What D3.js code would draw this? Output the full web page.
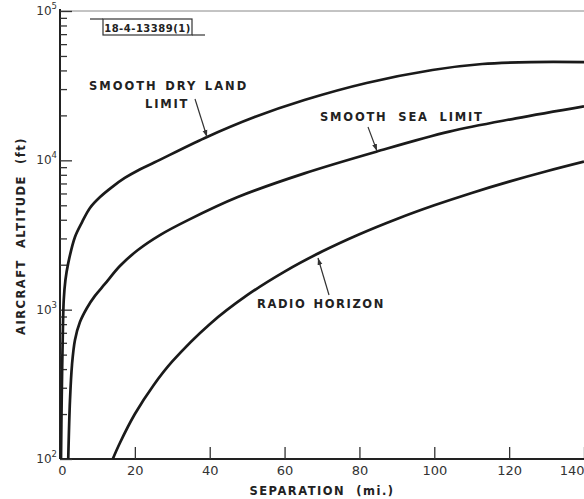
<!DOCTYPE html>
<html>
  <head>
    <meta charset="utf-8">
    <script src="https://d3js.org/d3.v7.min.js"></script>
    <title>Aircraft altitude vs separation</title>
    <style>
      body { margin: 0px; background: #fff; }
      svg text {
        font-family: 'DejaVu Sans', sans-serif;
        font-weight: bold;
        fill: #222;
      }
      .tick-label { font-size: 13px; font-weight: normal; fill: #333; }
      .axis-label { font-size: 11.5px; letter-spacing: 1.5px; }
      .note { font-size: 11.5px; letter-spacing: 1.8px; }
      .domain { display: none; }
      .tick line { stroke: #333; stroke-width: 1.3; }
      .curve { fill: none; stroke: #1a1a1a; stroke-width: 2.7; }
    </style>
  </head>
  <body>
    <svg width="584" height="499"></svg>
    <script>
      // separation (mi.) and altitude (ft)
      const sepDry = [0.27, 0.45, 0.67, 1.0, 1.45, 2.2, 4.0, 5.9, 8.0, 10.7, 13.9, 17.3, 21.3, 25.3, 38.7, 52, 65.3, 81.9, 99.5, 112.8, 126, 140];
      const altDry = [100, 248, 537, 1160, 1580, 2050, 3070, 3860, 4800, 5680, 6620, 7620, 8690, 9700, 14130, 19500, 25350, 32970, 40270, 44150, 45500, 45500];

      const sepSea = [2.2, 2.67, 3.2, 4.0, 5.33, 7.2, 9.33, 12, 16, 20.8, 26.7, 34.2, 47.5, 65.3, 84.5, 104, 121.8, 140];
      const altSea = [100, 248, 426, 627, 826, 1026, 1236, 1486, 1960, 2510, 3160, 3980, 5680, 8180, 11420, 15560, 19100, 23000];

      const sepRadio = [14.1, 16, 20, 25, 30, 40, 50, 60, 70, 80, 90, 100, 110, 120, 130, 140];
      const altRadio = [100, 128, 200, 312, 450, 800, 1250, 1800, 2450, 3200, 4050, 5000, 6050, 7200, 8450, 9800];

      const xTicks = [0, 20, 40, 60, 80, 100, 120, 140];
      const yDecades = [2, 3, 4, 5];

      const svg = d3.select('svg');
      const plotL = 60, plotR = 584, plotT = 11, plotB = 459;

      const x = d3.scaleLinear().domain([0, 140]).range([plotL, plotR]);
      const y = d3.scaleLog().domain([100, 1e5]).range([plotB, plotT]);

      // frame lines
      svg.append('line').attr('x1', plotL).attr('x2', 584).attr('y1', plotT).attr('y2', plotT)
        .attr('stroke', '#888').attr('stroke-width', 1);
      svg.append('line').attr('x1', plotL).attr('x2', plotL).attr('y1', plotT - 2).attr('y2', plotB)
        .attr('stroke', '#222').attr('stroke-width', 2);
      svg.append('line').attr('x1', plotL).attr('x2', 584).attr('y1', plotB).attr('y2', plotB)
        .attr('stroke', '#222').attr('stroke-width', 2);

      // y ticks: minor and decade ticks drawn inward
      const minor = [];
      [100, 1000, 10000].forEach(b => { for (let k = 2; k <= 9; k++) minor.push(b * k); });
      svg.append('g').attr('transform', `translate(${plotL},0)`)
        .call(d3.axisRight(y).tickValues(minor).tickSize(7).tickFormat(''));
      svg.append('g').attr('transform', `translate(${plotL},0)`)
        .call(d3.axisRight(y).tickValues(yDecades.map(e => Math.pow(10, e))).tickSize(12).tickFormat(''));

      const yl = svg.append('g');
      yDecades.forEach(e => {
        const t = yl.append('text').attr('class', 'tick-label')
          .style('font-size', '12px')
          .attr('x', plotL - 3).attr('y', y(Math.pow(10, e)) + 4)
          .attr('text-anchor', 'end');
        t.append('tspan').text('10');
        t.append('tspan').attr('dy', -6).style('font-size', '8.5px').text(e);
      });

      // x ticks pointing up, labels below
      svg.append('g').attr('transform', `translate(0,${plotB})`)
        .call(d3.axisTop(x).tickValues(xTicks.slice(1)).tickSize(12).tickFormat(''));
      svg.append('g').attr('transform', `translate(0,${plotB})`)
        .call(d3.axisBottom(x).tickValues(xTicks).tickSize(0).tickPadding(7))
        .selectAll('text')
          .attr('class', 'tick-label')
          .attr('dx', d => d === 0 ? 2 : 0)
          .attr('text-anchor', d => d === 140 ? 'end' : 'middle');

      // axis titles
      svg.append('text').attr('class', 'axis-label')
        .attr('x', 322).attr('y', 495).attr('text-anchor', 'middle')
        .attr('xml:space', 'preserve')
        .text('SEPARATION  (mi.)');
      svg.append('text').attr('class', 'axis-label')
        .attr('transform', 'translate(25,236) rotate(-90)').attr('text-anchor', 'middle')
        .attr('xml:space', 'preserve')
        .text('AIRCRAFT  ALTITUDE  (ft)');

      // curves
      const line = d3.line()
        .x(d => x(d[0]))
        .y(d => y(d[1]))
        .curve(d3.curveCatmullRom.alpha(0.5));

      const series = [
        d3.zip(sepDry, altDry),
        d3.zip(sepSea, altSea),
        d3.zip(sepRadio, altRadio)
      ];
      svg.append('g').selectAll('path').data(series)
        .enter().append('path')
          .attr('class', 'curve')
          .attr('d', line);

      // arrows
      svg.append('defs').append('marker')
        .attr('id', 'arr').attr('viewBox', '0 0 10 10')
        .attr('refX', 10).attr('refY', 5)
        .attr('markerWidth', 7).attr('markerHeight', 7)
        .attr('markerUnits', 'userSpaceOnUse')
        .attr('orient', 'auto')
        .append('path').attr('d', 'M0,1.5 L10,5 L0,8.5 Z').attr('fill', '#333');

      const arrows = [
        [195, 99, 207, 137],
        [368, 127, 377, 151],
        [329, 295, 318, 258]
      ];
      svg.append('g').selectAll('line').data(arrows)
        .enter().append('line')
          .attr('x1', d => d[0]).attr('y1', d => d[1])
          .attr('x2', d => d[2]).attr('y2', d => d[3])
          .attr('stroke', '#333').attr('stroke-width', 1.2)
          .attr('marker-end', 'url(#arr)');

      // notes: text, x, y, letter spacing, word spacing
      const notes = [
        ['SMOOTH DRY LAND', 89, 90, 2.0, 1.5],
        ['LIMIT', 145, 108, 1.8, 0],
        ['SMOOTH SEA LIMIT', 320, 121, 1.8, 5],
        ['RADIO HORIZON', 257, 308, 1.6, 1.5]
      ];
      svg.append('g').selectAll('text').data(notes)
        .enter().append('text')
          .attr('class', 'note')
          .attr('x', d => d[1]).attr('y', d => d[2])
          .style('letter-spacing', d => d[3] + 'px')
          .style('word-spacing', d => d[4] + 'px')
          .text(d => d[0]);

      // figure id box
      const box = svg.append('g');
      box.append('rect').attr('x', 103).attr('y', 19).attr('width', 89).attr('height', 16)
        .attr('fill', 'none').attr('stroke', '#333').attr('stroke-width', 1.2);
      box.append('line').attr('x1', 90).attr('x2', 103).attr('y1', 19).attr('y2', 19)
        .attr('stroke', '#333').attr('stroke-width', 1.2);
      box.append('line').attr('x1', 192).attr('x2', 205).attr('y1', 35).attr('y2', 35)
        .attr('stroke', '#333').attr('stroke-width', 1.2);
      box.append('text').attr('x', 147.5).attr('y', 31.5).attr('text-anchor', 'middle')
        .style('font-size', '10px').style('letter-spacing', '0.5px').text('18-4-13389(1)');
    </script>
  </body>
</html>
